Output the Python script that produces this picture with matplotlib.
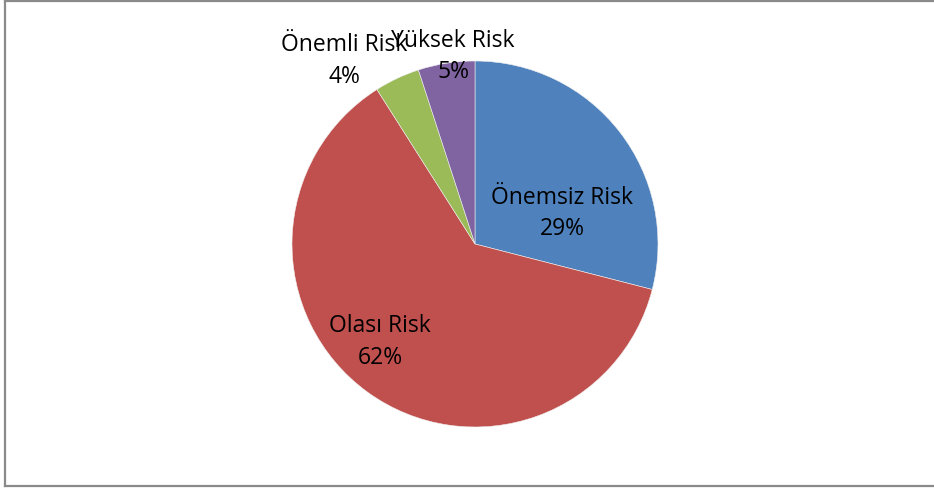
import matplotlib
matplotlib.use("Agg")
import matplotlib.pyplot as plt
from matplotlib.lines import Line2D

plt.rcParams["font.family"] = ["Open Sans", "DejaVu Sans"]

categories = ["Önemsiz Risk", "Olası Risk", "Önemli Risk", "Yüksek Risk"]
values = [29, 62, 4, 5]
colors = ["#4F81BD", "#C0504D", "#9BBB59", "#8064A2"]
# label anchor points in pie units (radius = 1)
label_pos = [(0.475, 0.17), (-0.519, -0.53), (-0.715, 1.006), (-0.12, 1.028)]

W, H = 934, 489
fig = plt.figure(figsize=(W / 100, H / 100), dpi=100)

cx, cy, r = 475, 245, 183
ax = fig.add_axes([0, 0, 1, 1])
ax.pie(values, colors=colors, startangle=90, counterclock=False, radius=1,
       wedgeprops=dict(linewidth=0.4, edgecolor="#f0f0f0"))
ax.set_aspect("auto")
ax.set_xlim(-cx / r, (W - cx) / r)
ax.set_ylim(-(H - cy) / r, cy / r)
ax.axis("off")

total = sum(values)
for name, v, (x, y) in zip(categories, values, label_pos):
    ax.text(x, y, f"{name}\n{round(100 * v / total)}%", ha="center", va="center",
            multialignment="center", fontsize=16.5, color="black", linespacing=1.4,
            family=["Open Sans", "DejaVu Sans"])

# chart frame
border = "#8a8a8a"
fig.add_artist(Line2D([4.5 / W, 4.5 / W], [1 - 1.5 / H, 1 - 487 / H],
                      transform=fig.transFigure, color=border, lw=1.6))
fig.add_artist(Line2D([4.5 / W, 1], [1 - 1.5 / H, 1 - 1.5 / H],
                      transform=fig.transFigure, color=border, lw=1.6))
fig.add_artist(Line2D([4.5 / W, 1], [1 - 487 / H, 1 - 487 / H],
                      transform=fig.transFigure, color=border, lw=1.6))

fig.savefig("out.png", dpi=100)
